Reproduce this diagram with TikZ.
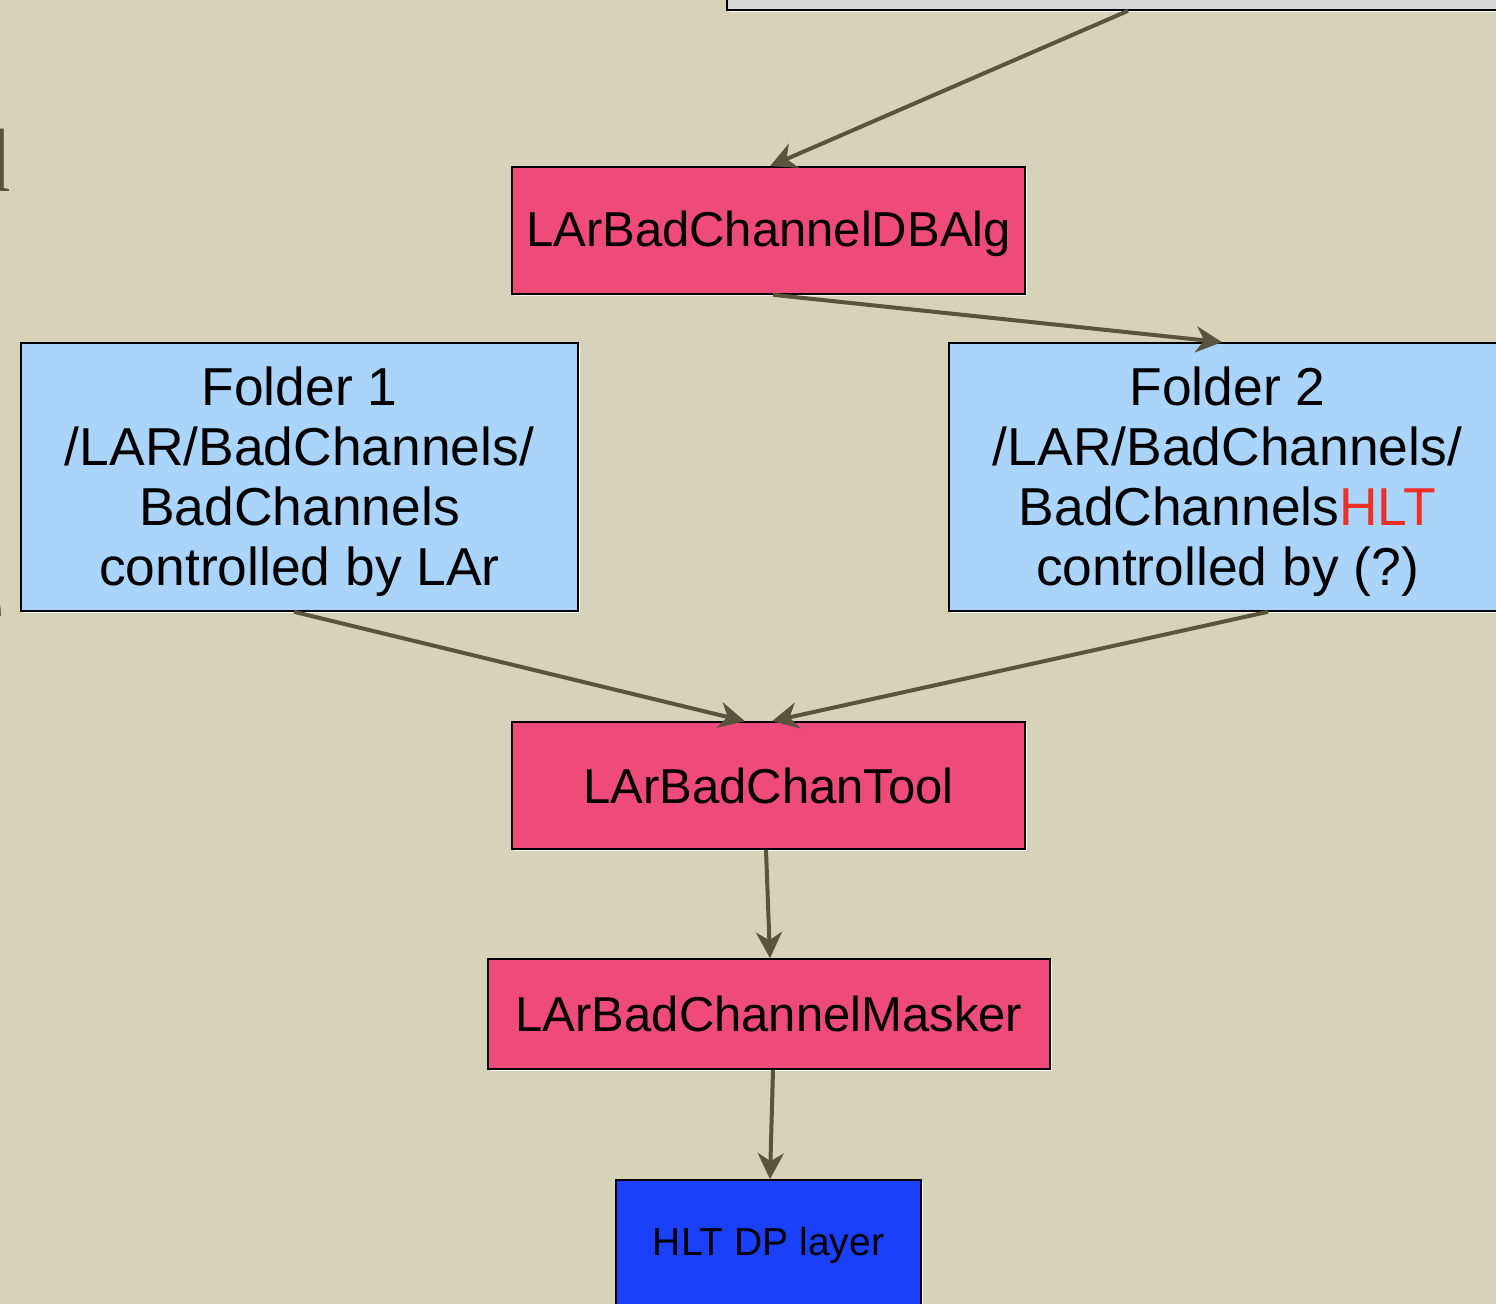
\documentclass[tikz,border=0pt]{standalone}
\usepackage{fontspec}
\setmainfont{Liberation Sans}
\newfontfamily\slideserif{Liberation Serif}
\usetikzlibrary{arrows.meta}
\usetikzlibrary{calc}
\usetikzlibrary{shadows}

\definecolor{bgtan}{RGB}{214,211,186}
\definecolor{algpink}{RGB}{238,74,122}
\definecolor{folderblue}{RGB}{170,212,250}
\definecolor{hltblue}{RGB}{26,64,250}
\definecolor{arrowolive}{RGB}{88,84,62}
\definecolor{hltred}{RGB}{236,48,36}
\definecolor{confgray}{RGB}{216,216,216}

\tikzset{
  box/.style={draw=black, line width=0.8pt, inner sep=0pt, align=center,
    drop shadow={shadow xshift=1pt, shadow yshift=-1.2pt, fill=white, opacity=0.9}},
  algbox/.style={box, fill=algpink, minimum width=256.5pt, font=\fontsize{24.5}{29}\selectfont},
  folderbox/.style={box, fill=folderblue, minimum width=278.5pt, minimum height=134pt,
    font=\fontsize{26.7}{30}\selectfont},
  flow/.style={-{Stealth[length=13pt, width=13pt, inset=4pt]}, draw=arrowolive, line width=2pt},
}

\begin{document}
\begin{tikzpicture}[x=0.5pt, y=-0.5pt]
            \useasboundingbox (0,0) rectangle (1496,1304);
            \clip (0,0) rectangle (1496,1304);
            % slide background
            \fill[bgtan] (0,0) rectangle (1496,1304);
            % cut-off slide text on the left
            \node[font=\slideserif\fontsize{45}{45}\selectfont, text=arrowolive, inner sep=0pt,
                anchor=base east] (fragd) at (11,192) {d};
            \node[font=\slideserif\fontsize{45}{45}\selectfont, text=arrowolive, inner sep=0pt,
                anchor=base east] (frage) at (5,638) {e};

            % conditions box (cut off at the top)
            \node[box, fill=confgray, minimum width=416.5pt, minimum height=35pt] (conf)
                at (1143.5,-25) {};

            % algorithm
            \node[algbox, minimum height=63.5pt] (dbalg) at (768.5,230.5)
                {\rule{0pt}{21pt}LArBadChannelDBAlg};

            % folders
            \node[folderbox] (folder1) at (299.5,477)
                {\rule{0pt}{24pt}Folder 1\\/LAR/BadChannels/\\BadChannels\\controlled by LAr};
            \node[folderbox] (folder2) at (1227.5,477)
                {\rule{0pt}{24pt}Folder 2\\/LAR/BadChannels/\\BadChannels\textcolor{hltred}{HLT}\\controlled by (?)};

            % tool and masker
            \node[algbox, minimum height=63.5pt] (chantool) at (768.5,785.5) {LArBadChanTool};
            \node[algbox, minimum width=281pt, minimum height=55pt] (masker) at (769,1014)
                {LArBadChannelMasker};

            % HLT layer
            \node[box, fill=hltblue, minimum width=152.5pt, minimum height=65pt,
                font=\fontsize{19.5}{23}\selectfont] (hlt) at (768.5,1245) {HLT DP layer};

            % arrows
            \draw[flow] ([xshift=-7.75pt]conf.south) -- ([xshift=0.75pt]dbalg.north);
            \draw[flow] ([xshift=2.25pt]dbalg.south) -- ([xshift=-2.75pt]folder2.north);
            \draw[flow] ([xshift=-2.75pt]folder1.south) -- ([xshift=-11.75pt]chantool.north);
            \draw[flow] ([xshift=20.25pt]folder2.south) -- ([xshift=1.75pt]chantool.north);
            \draw[flow] ([xshift=-1.25pt]chantool.south) -- ([xshift=0.5pt]masker.north);
            \draw[flow] ([xshift=2pt]masker.south) -- ([xshift=0.75pt]hlt.north);
        \end{tikzpicture}
\end{document}
